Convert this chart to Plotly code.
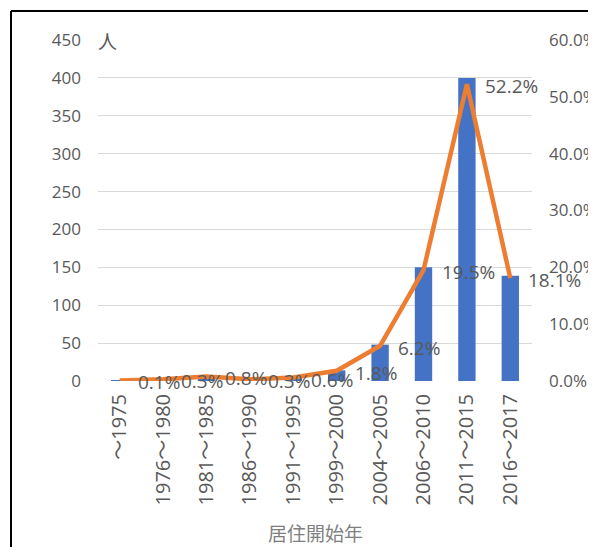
import plotly.graph_objects as go

categories = ["～1975", "1976～1980", "1981～1985", "1986～1990", "1991～1995",
              "1999～2000", "2004～2005", "2006～2010", "2011～2015", "2016～2017"]
counts = [1, 2, 6, 2, 5, 14, 48, 150, 400, 139]
shares = [0.001, 0.003, 0.008, 0.003, 0.006, 0.018, 0.062, 0.195, 0.522, 0.181]
share_labels = ["0.1%", "0.3%", "0.8%", "0.3%", "0.6%", "1.8%", "6.2%", "19.5%", "52.2%", "18.1%"]
left_ticks = list(range(0, 451, 50))
right_ticks = [0.0, 0.1, 0.2, 0.3, 0.4, 0.5, 0.6]

GRAY = "#595959"
OFF = 8  # page body margin in the viewer
W, H = 596 - OFF, 547 - OFF
L, R, T, B = 98 - OFF, 64, 40 - OFF, 166
PW, PH = W - L - R, H - T - B

def px_x(p):
    return (p - OFF - L) / PW

def px_y(p):
    return (H - B - (p - OFF)) / PH

fig = go.Figure()
fig.add_trace(go.Bar(x=categories, y=counts, marker_color="#4472C4",
                     marker_line_width=0, yaxis="y", showlegend=False))
fig.add_trace(go.Scatter(x=categories, y=shares, mode="lines",
                         line=dict(color="#ED7D31", width=4.5),
                         yaxis="y2", showlegend=False))

for c, s, t in zip(categories, shares, share_labels):
    fig.add_annotation(x=c, y=s, xref="x", yref="y2", text=t, showarrow=False,
                       xanchor="left", yanchor="middle", xshift=16, yshift=-2,
                       font=dict(family="Open Sans, Noto Sans CJK JP", size=19, color=GRAY))

fig.add_annotation(x=0.5, y=px_y(532), xref="paper", yref="paper", text="居住開始年",
                   showarrow=False, xanchor="center", yanchor="middle",
                   font=dict(family="Noto Sans CJK JP", size=19, color="#7F7F7F"))
fig.add_annotation(x=px_x(96), y=1, xref="paper", yref="paper", text="人",
                   showarrow=False, xanchor="left", yanchor="middle",
                   font=dict(family="Noto Sans CJK JP", size=19, color=GRAY))

# frame lines (left and top)
fig.add_shape(type="line", xref="paper", yref="paper", x0=px_x(11), x1=px_x(620),
              y0=px_y(11), y1=px_y(11), line=dict(color="black", width=2))
fig.add_shape(type="line", xref="paper", yref="paper", x0=px_x(11), x1=px_x(11),
              y0=px_y(11), y1=px_y(560), line=dict(color="black", width=2))

fig.update_layout(
    width=W, height=H, margin=dict(l=L, r=R, t=T, b=B, autoexpand=False),
    paper_bgcolor="white", plot_bgcolor="white", bargap=0.6,
    xaxis=dict(type="category", tickangle=-90, showgrid=False, showline=False,
               zeroline=False, ticks="", ticklabelstandoff=8, range=[-0.5, 9.5],
               tickfont=dict(family="Open Sans, Noto Sans CJK JP", size=20, color=GRAY)),
    yaxis=dict(range=[0, 450], tickvals=left_ticks, showgrid=True, gridcolor="#D9D9D9",
               gridwidth=1, zeroline=False, showline=False, ticks="",
               ticklabelstandoff=16,
               tickfont=dict(family="Open Sans", size=17, color=GRAY)),
    yaxis2=dict(range=[0, 0.6], tickvals=right_ticks, tickformat=".1%", overlaying="y",
                side="right", showgrid=False, zeroline=False, showline=False, ticks="",
                ticklabelstandoff=16,
                tickfont=dict(family="Open Sans", size=17, color=GRAY)),
)

fig.write_html("out.html")
